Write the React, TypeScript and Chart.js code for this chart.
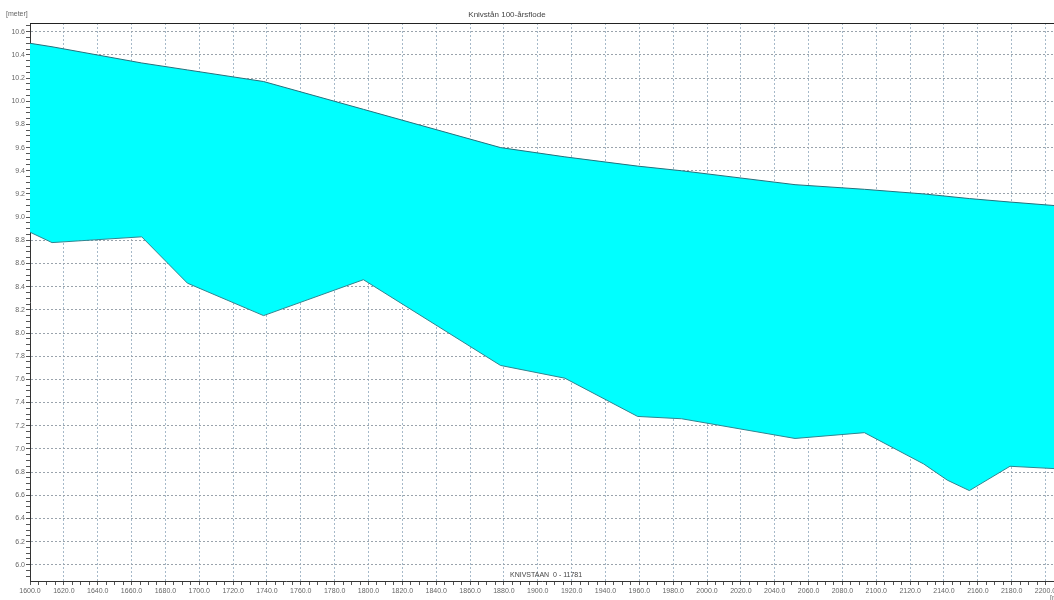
import React, { useEffect, useRef } from "react";
import { Chart, registerables } from "chart.js";

Chart.register(...registerables);

const TITLE = "Knivstån 100-årsflode";
const Y_UNIT = "[meter]";
const BRANCH_LABEL = "KNIVSTAAN  0 - 11781";
const X_UNIT = "[m]";

// Water surface (100-year flood level)
const waterChainage = [1600, 1613, 1666, 1693, 1738, 1797, 1878, 1916, 1959, 1985, 2052, 2093, 2128, 2155, 2179, 2205];
const waterLevel = [10.5, 10.47, 10.33, 10.27, 10.17, 9.93, 9.6, 9.52, 9.44, 9.4, 9.28, 9.24, 9.2, 9.16, 9.13, 9.1];

// River bed
const bedChainage = [1600, 1613, 1666, 1693, 1738, 1797, 1878, 1916, 1959, 1985, 2052, 2093, 2128, 2142, 2155, 2179, 2205];
const bedLevel = [8.87, 8.78, 8.83, 8.43, 8.15, 8.46, 7.72, 7.61, 7.28, 7.26, 7.09, 7.14, 6.87, 6.73, 6.64, 6.85, 6.83];

const X_MIN = 1600;
const X_MAX = 2205;
const Y_MIN = 5.86;
const Y_MAX = 10.675;
const X_MAJOR = 20;
const X_MINOR = 5;
const Y_MAJOR = 0.2;
const Y_MINOR = 0.05;

const FONT = '"Liberation Sans", Arial, sans-serif';

const isMultiple = (v: number, step: number) => {
  const r = v / step;
  return Math.abs(r - Math.round(r)) < 1e-6;
};

const overlay = {
  id: "overlay",
  afterDraw(chart: any) {
    const { ctx, chartArea } = chart;
    ctx.save();
    ctx.strokeStyle = "#222";
    ctx.lineWidth = 1;
    ctx.beginPath();
    ctx.moveTo(chartArea.left, chartArea.top + 0.5);
    ctx.lineTo(chartArea.right, chartArea.top + 0.5);
    ctx.stroke();

    ctx.fillStyle = "#444";
    ctx.font = `8px ${FONT}`;
    ctx.textAlign = "center";
    ctx.textBaseline = "middle";
    ctx.fillText(TITLE, 507, 15);

    ctx.font = `7px ${FONT}`;
    ctx.fillStyle = "#666";
    ctx.textAlign = "left";
    ctx.fillText(Y_UNIT, 6, 14);
    ctx.fillStyle = "#444";
    ctx.fillText(BRANCH_LABEL, 510, 575);
    ctx.fillStyle = "#666";
    ctx.fillText(X_UNIT, 1050, 598);
    ctx.restore();
  },
};

export default function App() {
  const canvasRef = useRef<HTMLCanvasElement | null>(null);

  useEffect(() => {
    if (!canvasRef.current) return;
    const chart = new Chart(canvasRef.current, {
      type: "line",
      data: {
        datasets: [
          {
            label: "Water level",
            data: waterChainage.map((x, i) => ({ x, y: waterLevel[i] })),
            borderColor: "#25707c",
            borderWidth: 1,
            backgroundColor: "#00ffff",
            fill: "+1",
            pointRadius: 0,
            tension: 0,
          },
          {
            label: "Bed level",
            data: bedChainage.map((x, i) => ({ x, y: bedLevel[i] })),
            borderColor: "#2f8590",
            borderWidth: 1,
            backgroundColor: "#00ffff",
            fill: false,
            pointRadius: 0,
            tension: 0,
          },
        ],
      },
      options: {
        responsive: false,
        animation: false,
        devicePixelRatio: 1,
        layout: { padding: { top: 23, left: 0, right: 0, bottom: 0 } },
        plugins: {
          legend: { display: false },
          tooltip: { enabled: false },
          title: { display: false },
          filler: { drawTime: "beforeDatasetsDraw" },
        },
        scales: {
          x: {
            type: "linear",
            min: X_MIN,
            max: X_MAX,
            afterFit: (s: any) => {
              s.height = 19;
              s.paddingLeft = 0;
              s.paddingRight = 0;
            },
            ticks: {
              stepSize: X_MINOR,
              autoSkip: false,
              includeBounds: false,
              maxRotation: 0,
              padding: 2,
              color: "#666",
              font: { size: 7, family: FONT },
              callback: (v: any) => (isMultiple(Number(v), X_MAJOR) ? Number(v).toFixed(1) : ""),
            },
            grid: {
              color: (c: any) => (c.tick && isMultiple(c.tick.value, X_MAJOR) ? "#a6b9c9" : "rgba(0,0,0,0)"),
              lineWidth: 1,
              drawTicks: true,
              tickLength: 4,
              tickColor: "#555",
              tickWidth: 1,
            },
            border: { display: true, color: "#333", width: 1, dash: [2, 2] },
          },
          y: {
            type: "linear",
            min: Y_MIN,
            max: Y_MAX,
            afterFit: (s: any) => {
              s.width = 30;
              s.paddingTop = 0;
              s.paddingBottom = 0;
            },
            ticks: {
              stepSize: Y_MINOR,
              autoSkip: false,
              includeBounds: false,
              padding: 1,
              color: "#666",
              font: { size: 7, family: FONT },
              callback: (v: any) => (isMultiple(Number(v), Y_MAJOR) ? Number(v).toFixed(1) : ""),
            },
            grid: {
              color: (c: any) => (c.tick && isMultiple(c.tick.value, Y_MAJOR) ? "#9aa3ac" : "rgba(0,0,0,0)"),
              lineWidth: 1,
              drawTicks: true,
              tickLength: 4,
              tickColor: "#555",
              tickWidth: 1,
            },
            border: { display: true, color: "#333", width: 1, dash: [2, 2] },
          },
        },
      } as any,
      plugins: [overlay],
    });
    return () => chart.destroy();
  }, []);

  return (
    <div style={{ position: "absolute", left: 0, top: 0, width: 1054, height: 600, background: "#fff" }}>
      <canvas ref={canvasRef} width={1054} height={600} />
    </div>
  );
}
